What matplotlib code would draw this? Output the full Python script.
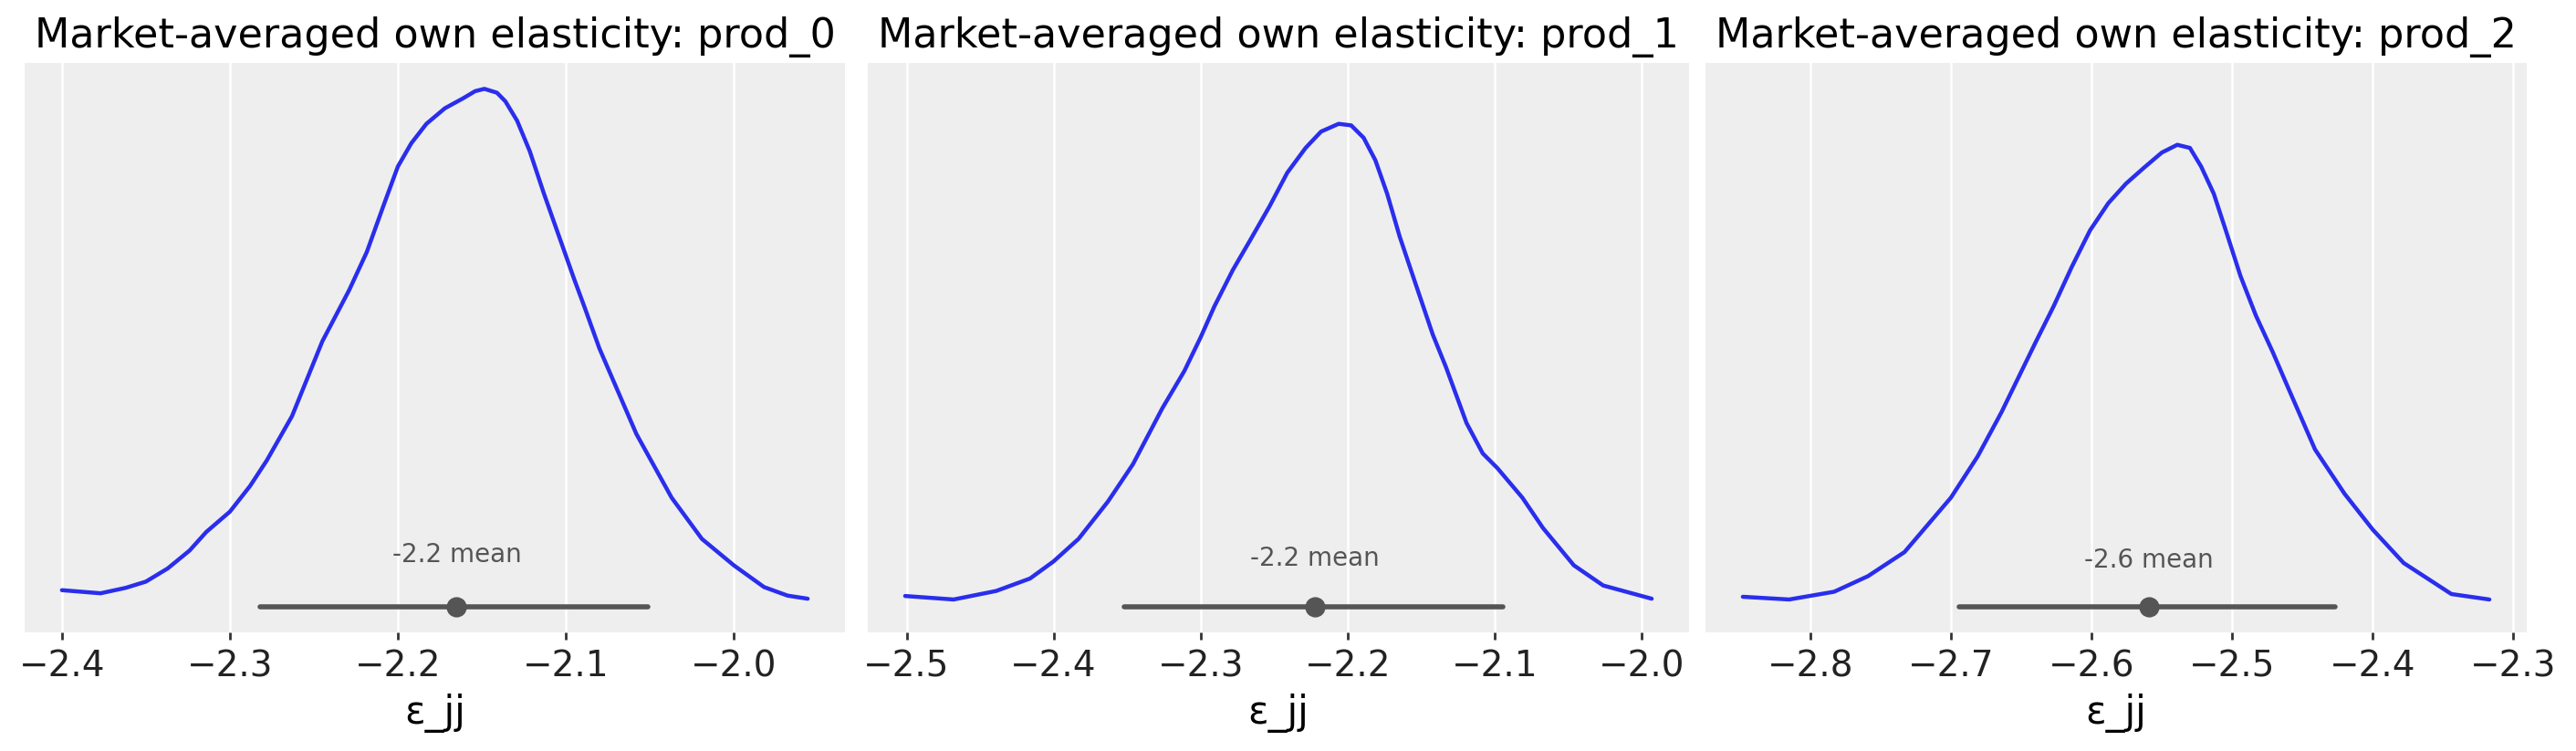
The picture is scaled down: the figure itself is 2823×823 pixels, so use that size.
import matplotlib
matplotlib.use("Agg")
import matplotlib.pyplot as plt

plt.rcParams['font.family'] = ['DejaVu Sans']

products = ["prod_0", "prod_1", "prod_2"]

# KDE curves (x = elasticity, y = density)
x_prod0 = [-2.400, -2.377, -2.362, -2.350, -2.337, -2.324, -2.314, -2.300, -2.288, -2.278,
           -2.263, -2.245, -2.229, -2.2185, -2.208, -2.200, -2.192, -2.183, -2.172, -2.161,
           -2.154, -2.1485, -2.141, -2.136, -2.129, -2.1215, -2.113, -2.104, -2.095, -2.089,
           -2.080, -2.058, -2.037, -2.019, -2.000, -1.982, -1.968, -1.956]
d_prod0 = [0.21, 0.17, 0.24, 0.32, 0.49, 0.72, 0.96, 1.22, 1.55, 1.88,
           2.45, 3.41, 4.07, 4.56, 5.19, 5.66, 5.96, 6.21, 6.41, 6.54,
           6.63, 6.66, 6.61, 6.50, 6.25, 5.86, 5.31, 4.76, 4.21, 3.86,
           3.32, 2.22, 1.40, 0.87, 0.53, 0.25, 0.14, 0.10]

x_prod1 = [-2.501, -2.468, -2.439, -2.416, -2.400, -2.383, -2.363, -2.346, -2.326, -2.311,
           -2.300, -2.2906, -2.278, -2.266, -2.253, -2.241, -2.2285, -2.218, -2.206, -2.1975,
           -2.189, -2.181, -2.173, -2.1645, -2.154, -2.142, -2.133, -2.119, -2.108, -2.098,
           -2.081, -2.067, -2.046, -2.026, -1.993]
d_prod1 = [0.135, 0.09, 0.20, 0.36, 0.58, 0.87, 1.35, 1.83, 2.55, 3.03,
           3.46, 3.86, 4.33, 4.72, 5.15, 5.58, 5.90, 6.11, 6.21, 6.19,
           6.03, 5.74, 5.31, 4.76, 4.17, 3.50, 3.08, 2.36, 1.97, 1.78,
           1.40, 1.01, 0.53, 0.27, 0.10]

x_prod2 = [-2.848, -2.815, -2.783, -2.759, -2.733, -2.700, -2.681, -2.664, -2.640, -2.627,
           -2.614, -2.601, -2.588, -2.5755, -2.563, -2.550, -2.539, -2.530, -2.522, -2.513,
           -2.5045, -2.494, -2.483, -2.471, -2.461, -2.441, -2.420, -2.400, -2.378, -2.344,
           -2.317]
d_prod2 = [0.125, 0.09, 0.19, 0.39, 0.70, 1.40, 1.93, 2.50, 3.39, 3.86,
           4.37, 4.84, 5.19, 5.44, 5.64, 5.84, 5.94, 5.90, 5.66, 5.31,
           4.84, 4.25, 3.74, 3.27, 2.85, 2.02, 1.45, 0.99, 0.56, 0.16,
           0.09]

# credible intervals and means
ci_low = [-2.282, -2.352, -2.694]
ci_high = [-2.051, -2.094, -2.427]
means = [-2.165, -2.222, -2.559]
mean_labels = ["-2.2 mean", "-2.2 mean", "-2.6 mean"]

xs = [x_prod0, x_prod1, x_prod2]
ds = [d_prod0, d_prod1, d_prod2]

W, H = 2823, 823
fig = plt.figure(figsize=(W / 200, H / 200), dpi=200)

# axes positions in pixels (left, right)
panel_px = [(27, 926), (951, 1851), (1869, 2769)]
top_px, bottom_px = 69, 693

blue = "#2a2eec"
gray = "#555555"

axes = []
for i, (l, r) in enumerate(panel_px):
    rect = [l / W, 1 - bottom_px / H, (r - l) / W, (bottom_px - top_px) / H]
    if axes:
        ax = fig.add_axes(rect, sharey=axes[0])
    else:
        ax = fig.add_axes(rect)
    axes.append(ax)
    ax.set_facecolor("#eeeeee")
    for s in ax.spines.values():
        s.set_visible(False)
    ax.grid(True, axis="x", color="white", linewidth=0.9)
    ax.grid(False, axis="y")
    ax.set_axisbelow(True)

    ax.plot(xs[i], ds[i], color=blue, lw=1.6, zorder=3,
            solid_joinstyle="round", solid_capstyle="round")
    ax.plot([ci_low[i], ci_high[i]], [0, 0], color=gray, lw=2.0,
            solid_capstyle="round", zorder=3)
    ax.plot([means[i]], [0], "o", color=gray, markersize=7, zorder=4)
    ax.text(means[i], 0.1 * max(ds[i]), mean_labels[i], ha="center", va="center",
            fontsize=10, color=gray)

    ax.set_title(f"Market-averaged own elasticity: {products[i]}", fontsize=16, pad=6)
    ax.set_xlabel("ε_jj", fontsize=15)
    ax.tick_params(axis="x", labelsize=14, length=3, width=1, color="#333333",
                   labelcolor="#222222", direction="out")
    ax.tick_params(axis="y", left=False, labelleft=False)

fig.savefig("out.png", dpi=200)
